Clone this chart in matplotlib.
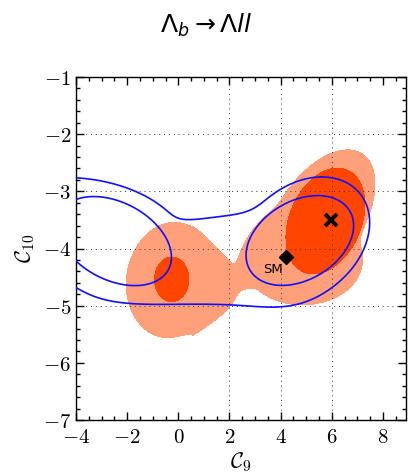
import numpy as np
import matplotlib
matplotlib.use("Agg")
import matplotlib.pyplot as plt
from matplotlib.ticker import MultipleLocator, FuncFormatter

plt.rcParams['mathtext.fontset'] = 'cm'

# Allowed regions, each built from elliptical pieces:
# (centre C9, centre C10, half-width, half-height, tilt in degrees, x exponent)
light_region = [(-0.3, -4.55, 1.72, 1.0, 4, 2),
                (0.57, -4.62, 1.8, 0.87, 0, 1),
                (2.5, -4.5, 0.8, 0.1, 0, 2),
                (5.5, -3.5, 2.3, 1.0, 20, 2),
                (3.3, -4.0, 1.1, 0.45, 28, 2),
                (4.9, -4.2, 2.3, 0.78, 0, 2)]
dark_region = [(-0.26, -4.54, 0.67, 0.39, 0, 2),
               (5.75, -3.52, 1.58, 0.86, 15, 2)]
inner_line = [(-2.5, -3.87, 2.25, 0.72, -8, 2),
              (4.75, -3.86, 2.12, 0.735, 8, 2)]
outer_line = [(-3.6, -3.7, 3.8, 0.92, -3, 2),
              (0.6, -4.5, 4.3, 0.47, 0, 4),
              (1.0, -3.92, 2.8, 0.42, 5, 2),
              (4.9, -3.85, 2.6, 1.05, 8, 2)]

best_fit = (5.95, -3.5)
sm_point = (4.2, -4.15)

x_ticks = [-4, -2, 0, 2, 4, 6, 8]
y_ticks = [-7, -6, -5, -4, -3, -2, -1]
x_grid = [2, 4, 6]
y_grid = [-5, -4, -3, -2]


def region_field(parts, X, Y, k):
    terms = []
    for cx, cy, a, b, ang, p in parts:
        t = np.radians(ang)
        u = (X - cx) * np.cos(t) + (Y - cy) * np.sin(t)
        v = -(X - cx) * np.sin(t) + (Y - cy) * np.cos(t)
        terms.append(np.abs(u / a) ** p + (v / b) ** 2)
    terms = np.array(terms)
    m = terms.min(axis=0)
    return m - k * np.log(np.sum(np.exp(-(terms - m) / k), axis=0))


xs = np.linspace(-8, 11, 900)
ys = np.linspace(-8, 0, 600)
X, Y = np.meshgrid(xs, ys)

fig = plt.figure(figsize=(4.08, 4.72), dpi=100)
ax = fig.add_axes([76 / 408, 52 / 472, 330 / 408, 343 / 472])

light = region_field(light_region, X, Y, 0.2)
dark = region_field(dark_region, X, Y, 0.2)
inner = region_field(inner_line, X, Y, 0.2)
outer = region_field(outer_line, X, Y, 0.45)

ax.contourf(X, Y, light, levels=[light.min() - 1, 1], colors=['#ffa07a'], zorder=1)
ax.contourf(X, Y, dark, levels=[dark.min() - 1, 1], colors=['#ff4500'], zorder=2)

for gx in x_grid:
    ax.axvline(gx, color='#333333', lw=0.7, ls=(0, (1, 4)), zorder=3)
for gy in y_grid:
    ax.axhline(gy, color='#333333', lw=0.7, ls=(0, (1, 4)), zorder=3)

ax.contour(X, Y, outer, levels=[1], colors=['#1010ff'], linewidths=1.2, zorder=4)
ax.contour(X, Y, inner, levels=[1], colors=['#1010ff'], linewidths=1.2, zorder=4)

ax.plot(*best_fit, marker='x', ms=8, mew=2.8, color='black', zorder=5)
ax.plot(*sm_point, marker='D', ms=7, color='black', zorder=5)
ax.text(sm_point[0] - 0.5, sm_point[1] - 0.22, 'SM', fontsize=9.5,
        family='DejaVu Sans', ha='center', va='center', zorder=5)

ax.set_xlim(-4, 8.9)
ax.set_ylim(-7, -1)
ax.set_xticks(x_ticks)
ax.set_yticks(y_ticks)
ax.xaxis.set_minor_locator(MultipleLocator(0.5))
ax.yaxis.set_minor_locator(MultipleLocator(0.2))
fmt = FuncFormatter(lambda v, p: f"${int(round(v))}$")
ax.xaxis.set_major_formatter(fmt)
ax.yaxis.set_major_formatter(fmt)
ax.tick_params(which='both', direction='in', top=True, right=True, width=1, labelsize=15)
ax.tick_params(which='major', length=6)
ax.tick_params(which='minor', length=3)
ax.tick_params(axis='x', which='major', pad=5)
for s in ax.spines.values():
    s.set_linewidth(1.0)

ax.set_xlabel(r'$\mathcal{C}_9$', fontsize=16, labelpad=2)
ax.set_ylabel(r'$\mathcal{C}_{10}$', fontsize=16, labelpad=4)

fig.text(0.507, 1 - 25 / 472, r'$\Lambda_b \to \Lambda ll$', math_fontfamily='dejavusans',
         fontsize=18, ha='center', va='center')

fig.savefig('out.png', dpi=100)
